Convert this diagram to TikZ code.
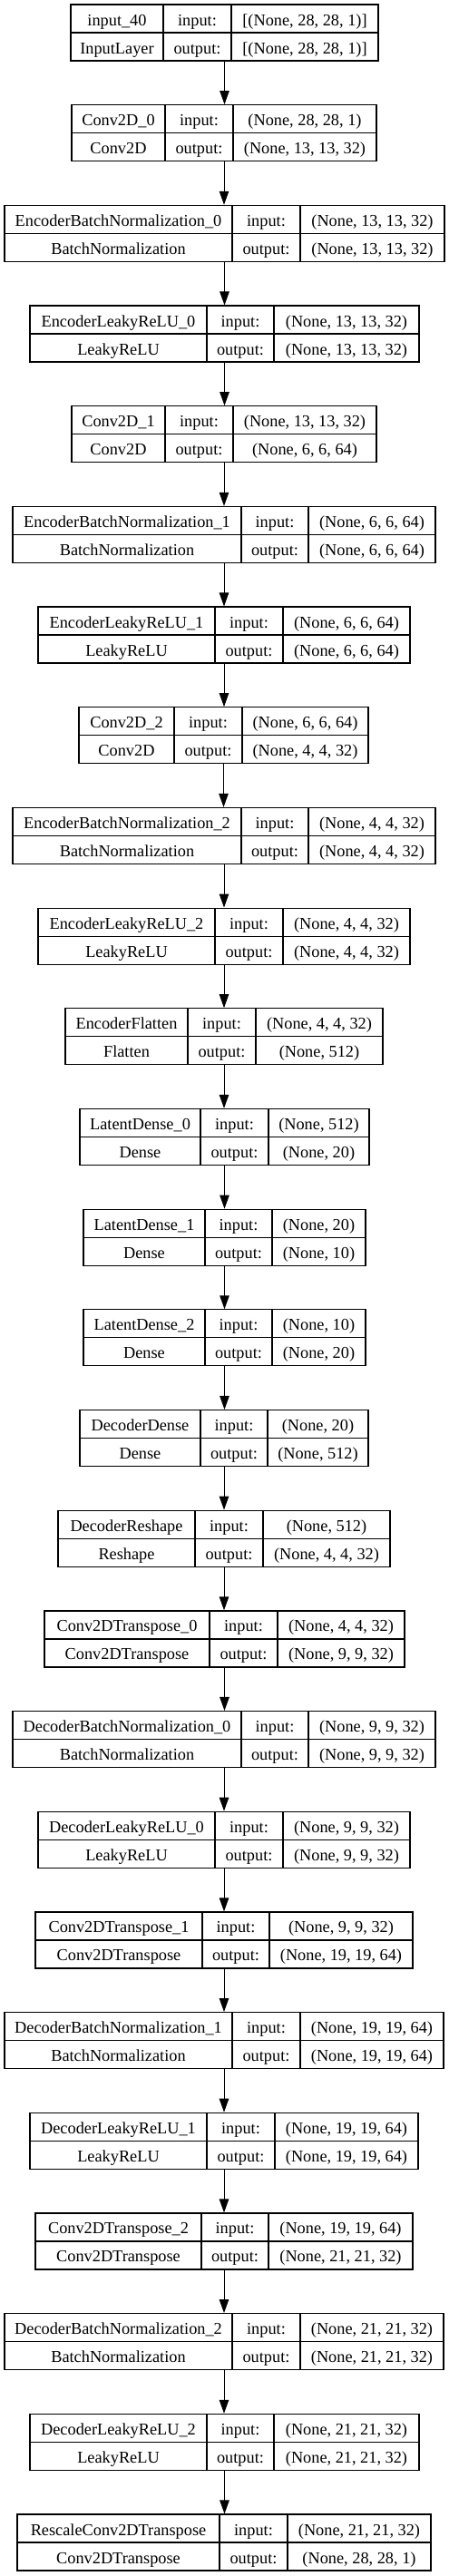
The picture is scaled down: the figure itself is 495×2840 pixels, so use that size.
\documentclass[tikz,border=0pt]{standalone}
\usepackage{fontspec}
\setmainfont{Liberation Serif}
\usetikzlibrary{arrows.meta}
\tikzset{
  frame/.style={draw=black, line width=1.2pt, inner sep=0pt, fill=none},
  cell/.style={draw=black, line width=1.2pt, inner sep=0pt, minimum height=31pt,
    text height=17pt, text depth=2pt, font=\fontsize{18.3}{20}\selectfont},
  arr/.style={line width=1pt, -{Triangle[length=15pt,width=10.5pt]}}
}
\newcommand\layer[6]{\def\Lid{#1}\pgfmathsetmacro\Lt{5+110.68*#2}\def\La{#3}\def\Lb{#4}\def\Lc{#5}\def\Ld{#6}\layerText}
\newcommand\layerText[4]{%
  \node[frame, minimum width={(\Ld-\La)*1pt}, minimum height=62pt] (\Lid) at ({(\La+\Ld)/2}, {-\Lt-31}) {};
  \node[cell, minimum width={(\Lb-\La)*1pt}] (\Lid-name) at ({(\La+\Lb)/2}, {-\Lt-15.5}) {#1};
  \node[cell, minimum width={(\Lb-\La)*1pt}] (\Lid-class) at ({(\La+\Lb)/2}, {-\Lt-46.5}) {#2};
  \node[cell, minimum width={(\Lc-\Lb)*1pt}] (\Lid-inl) at ({(\Lb+\Lc)/2}, {-\Lt-15.5}) {input:};
  \node[cell, minimum width={(\Lc-\Lb)*1pt}] (\Lid-outl) at ({(\Lb+\Lc)/2}, {-\Lt-46.5}) {output:};
  \node[cell, minimum width={(\Ld-\Lc)*1pt}] (\Lid-in) at ({(\Lc+\Ld)/2}, {-\Lt-15.5}) {#3};
  \node[cell, minimum width={(\Ld-\Lc)*1pt}] (\Lid-out) at ({(\Lc+\Ld)/2}, {-\Lt-46.5}) {#4};
}
\begin{document}
\begin{tikzpicture}[x=1pt, y=1pt]
\useasboundingbox[fill=white] (0,0) rectangle (495,-2840);
\layer{in40}{0}{78}{180}{255}{417}{input\_40}{InputLayer}{[(None, 28, 28, 1)]}{[(None, 28, 28, 1)]}
\layer{c0}{1}{79}{182}{257}{415}{Conv2D\_0}{Conv2D}{(None, 28, 28, 1)}{(None, 13, 13, 32)}
\layer{ebn0}{2}{5}{256}{331}{490}{EncoderBatchNormalization\_0}{BatchNormalization}{(None, 13, 13, 32)}{(None, 13, 13, 32)}
\layer{elr0}{3}{33}{228}{302}{462}{EncoderLeakyReLU\_0}{LeakyReLU}{(None, 13, 13, 32)}{(None, 13, 13, 32)}
\layer{c1}{4}{79}{182}{257}{415}{Conv2D\_1}{Conv2D}{(None, 13, 13, 32)}{(None, 6, 6, 64)}
\layer{ebn1}{5}{14}{266}{340}{480}{EncoderBatchNormalization\_1}{BatchNormalization}{(None, 6, 6, 64)}{(None, 6, 6, 64)}
\layer{elr1}{6}{42}{237}{312}{452}{EncoderLeakyReLU\_1}{LeakyReLU}{(None, 6, 6, 64)}{(None, 6, 6, 64)}
\layer{c2}{7}{87}{192}{267}{406}{Conv2D\_2}{Conv2D}{(None, 6, 6, 64)}{(None, 4, 4, 32)}
\layer{ebn2}{8}{14}{266}{340}{480}{EncoderBatchNormalization\_2}{BatchNormalization}{(None, 4, 4, 32)}{(None, 4, 4, 32)}
\layer{elr2}{9}{42}{237}{312}{452}{EncoderLeakyReLU\_2}{LeakyReLU}{(None, 4, 4, 32)}{(None, 4, 4, 32)}
\layer{efl}{10}{72}{207}{282}{422}{EncoderFlatten}{Flatten}{(None, 4, 4, 32)}{(None, 512)}
\layer{ld0}{11}{88}{221}{296}{407}{LatentDense\_0}{Dense}{(None, 512)}{(None, 20)}
\layer{ld1}{12}{92}{226}{300}{403}{LatentDense\_1}{Dense}{(None, 20)}{(None, 10)}
\layer{ld2}{13}{92}{226}{300}{403}{LatentDense\_2}{Dense}{(None, 10)}{(None, 20)}
\layer{dd}{14}{88}{221}{295}{406}{DecoderDense}{Dense}{(None, 20)}{(None, 512)}
\layer{drs}{15}{64}{215}{290}{430}{DecoderReshape}{Reshape}{(None, 512)}{(None, 4, 4, 32)}
\layer{ct0}{16}{49}{231}{306}{446}{Conv2DTranspose\_0}{Conv2DTranspose}{(None, 4, 4, 32)}{(None, 9, 9, 32)}
\layer{dbn0}{17}{14}{266}{340}{480}{DecoderBatchNormalization\_0}{BatchNormalization}{(None, 9, 9, 32)}{(None, 9, 9, 32)}
\layer{dlr0}{18}{42}{237}{312}{452}{DecoderLeakyReLU\_0}{LeakyReLU}{(None, 9, 9, 32)}{(None, 9, 9, 32)}
\layer{ct1}{19}{39}{223}{297}{455}{Conv2DTranspose\_1}{Conv2DTranspose}{(None, 9, 9, 32)}{(None, 19, 19, 64)}
\layer{dbn1}{20}{5}{256}{331}{489}{DecoderBatchNormalization\_1}{BatchNormalization}{(None, 19, 19, 64)}{(None, 19, 19, 64)}
\layer{dlr1}{21}{33}{228}{303}{461}{DecoderLeakyReLU\_1}{LeakyReLU}{(None, 19, 19, 64)}{(None, 19, 19, 64)}
\layer{ct2}{22}{39}{222}{296}{455}{Conv2DTranspose\_2}{Conv2DTranspose}{(None, 19, 19, 64)}{(None, 21, 21, 32)}
\layer{dbn2}{23}{5}{256}{331}{489}{DecoderBatchNormalization\_2}{BatchNormalization}{(None, 21, 21, 32)}{(None, 21, 21, 32)}
\layer{dlr2}{24}{33}{228}{302}{462}{DecoderLeakyReLU\_2}{LeakyReLU}{(None, 21, 21, 32)}{(None, 21, 21, 32)}
\layer{rct}{25}{19}{242}{317}{475}{RescaleConv2DTranspose}{Conv2DTranspose}{(None, 21, 21, 32)}{(None, 28, 28, 1)}
\foreach \a/\b in {in40/c0, c0/ebn0, ebn0/elr0, elr0/c1, c1/ebn1, ebn1/elr1, elr1/c2, c2/ebn2, ebn2/elr2, elr2/efl, efl/ld0, ld0/ld1, ld1/ld2, ld2/dd, dd/drs, drs/ct0, ct0/dbn0, dbn0/dlr0, dlr0/ct1, ct1/dbn1, dbn1/dlr1, dlr1/ct2, ct2/dbn2, dbn2/dlr2, dlr2/rct}
  \draw[arr] (\a.south) -- (\a.south |- \b.north);
\end{tikzpicture}
\end{document}
